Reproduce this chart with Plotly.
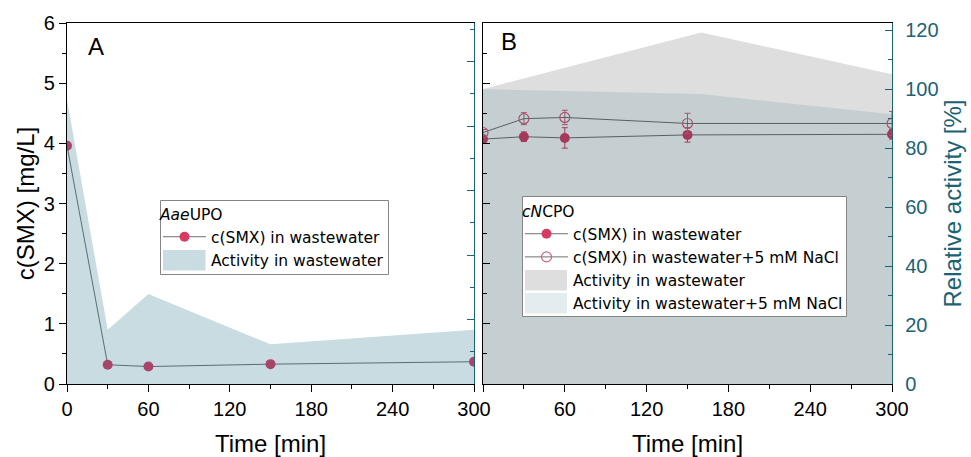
import plotly.graph_objects as go

# ---------------- data ----------------
time_a = [0, 30, 60, 150, 300]
smx_a = [3.96, 0.32, 0.29, 0.33, 0.37]
act_time_a = [0, 30, 60, 150, 300]
act_a = [88.2, 16.8, 27.9, 12.3, 16.8]

time_b = [0, 30, 60, 150, 300]
smx_b = [4.07, 4.11, 4.09, 4.14, 4.15]
smx_b_err = [0.05, 0.08, 0.17, 0.12, 0.08]
smx_b_nacl = [4.18, 4.41, 4.43, 4.33, 4.33]
smx_b_nacl_err = [0.05, 0.10, 0.12, 0.17, 0.20]
act_time_b = [0, 160, 300]
act_b = [100, 119.2, 105]
act_b_nacl = [100, 98.3, 91.5]

x_ticks = [0, 60, 120, 180, 240, 300]
x_labels_a = ["0", "60", "120", "180", "240", "300"]
x_labels_b = ["", "60", "120", "180", "240", "300"]

# ---------------- styles ----------------
W, H = 971, 457
TEAL = "#1b6373"
RED = "#d63c63"
PINK = "#d2607a"
LINE = "#4a4a4a"
FILL_A = "rgba(18,103,128,0.23)"
FILL_GRAY = "rgba(0,0,0,0.13)"
FILL_BLUE = "rgba(18,103,128,0.118)"
TICKFONT = dict(family="Liberation Sans, Arial", size=20, color="black")
TITLEFONT = dict(family="Liberation Sans, Arial", size=24, color="black")
LEGFONT = dict(family="DejaVu Sans", size=15.5, color="black")

xa_dom = [67 / W, 474 / W]
xb_dom = [483 / W, 892 / W]
y_dom = [1 - 384 / H, 1 - 23 / H]

fig = go.Figure()

# Panel A
fig.add_trace(go.Scatter(
    x=time_a, y=smx_a, mode="lines+markers", name="c(SMX) in wastewater",
    line=dict(color=LINE, width=0.8), marker=dict(color=RED, size=10),
    xaxis="x", yaxis="y", legend="legend"))
fig.add_trace(go.Scatter(
    x=act_time_a, y=act_a, mode="lines", fill="tozeroy", fillcolor=FILL_A,
    line=dict(width=0, color="rgba(0,0,0,0)"), showlegend=False,
    name="Activity in wastewater", xaxis="x", yaxis="y2"))
fig.add_trace(go.Scatter(
    x=[None], y=[None], mode="lines", name="Activity in wastewater",
    line=dict(width=0, color="rgba(0,0,0,0)"), xaxis="x", yaxis="y", legend="legend"))

# Panel B
fig.add_trace(go.Scatter(
    x=time_b, y=smx_b, mode="lines+markers", name="c(SMX) in wastewater",
    line=dict(color=LINE, width=0.8), marker=dict(color=RED, size=10),
    error_y=dict(type="data", array=smx_b_err, color=RED, thickness=1, width=3),
    xaxis="x2", yaxis="y3", legend="legend2"))
fig.add_trace(go.Scatter(
    x=time_b, y=smx_b_nacl, mode="lines+markers", name="c(SMX) in wastewater+5 mM NaCl",
    line=dict(color=LINE, width=0.8),
    marker=dict(symbol="circle-open", color=PINK, size=10, line=dict(width=1.2, color=PINK)),
    error_y=dict(type="data", array=smx_b_nacl_err, color=PINK, thickness=1, width=3),
    xaxis="x2", yaxis="y3", legend="legend2"))
fig.add_trace(go.Scatter(
    x=act_time_b, y=act_b, mode="lines", fill="tozeroy", fillcolor=FILL_GRAY,
    line=dict(width=0, color="rgba(0,0,0,0)"), showlegend=False,
    name="Activity in wastewater", xaxis="x2", yaxis="y4"))
fig.add_trace(go.Scatter(
    x=act_time_b, y=act_b_nacl, mode="lines", fill="tozeroy", fillcolor=FILL_BLUE,
    line=dict(width=0, color="rgba(0,0,0,0)"), showlegend=False,
    name="Activity in wastewater+5 mM NaCl", xaxis="x2", yaxis="y4"))
fig.add_trace(go.Scatter(
    x=[None], y=[None], mode="lines", name="Activity in wastewater",
    line=dict(width=0, color="rgba(0,0,0,0)"), xaxis="x2", yaxis="y3", legend="legend2"))
fig.add_trace(go.Scatter(
    x=[None], y=[None], mode="lines", name="Activity in wastewater+5 mM NaCl",
    line=dict(width=0, color="rgba(0,0,0,0)"), xaxis="x2", yaxis="y3", legend="legend2"))

def x_axis(dom, anchor, labels):
    return dict(domain=dom, anchor=anchor, range=[0, 300], tickvals=x_ticks, ticktext=labels,
                ticks="outside", ticklen=7, tickwidth=1.3,
                tickcolor="black", showline=True, linecolor="black", linewidth=1.3,
                mirror=True, showgrid=False, zeroline=False, tickfont=TICKFONT,
                minor=dict(dtick=30, tick0=0, ticks="outside", ticklen=4, tickwidth=1.3,
                           tickcolor="black"),
                title=dict(text="Time [min]", font=TITLEFONT, standoff=23), automargin=False)

fig.update_layout(
    width=W, height=H, margin=dict(l=0, r=0, t=0, b=0),
    paper_bgcolor="white", plot_bgcolor="white",
    xaxis=x_axis(xa_dom, "y", x_labels_a),
    xaxis2=x_axis(xb_dom, "y3", x_labels_b),
    yaxis=dict(domain=y_dom, anchor="x", range=[0, 6], dtick=1, ticks="outside", ticklen=7,
               tickwidth=1.3, tickcolor="black", showline=True, linecolor="black",
               linewidth=1.3, showgrid=False, zeroline=False, tickfont=TICKFONT,
               minor=dict(dtick=0.5, ticks="outside", ticklen=4, tickwidth=1.3, tickcolor="black"),
               title=dict(text="c(SMX) [mg/L]", font=TITLEFONT, standoff=2), automargin=False),
    yaxis2=dict(overlaying="y", side="right", anchor="x", range=[0, 112], dtick=20,
                ticks="inside", ticklen=7, tickwidth=1.3, tickcolor=TEAL, showticklabels=False,
                showline=True, linecolor=TEAL, linewidth=1.3, showgrid=False, zeroline=False,
                minor=dict(dtick=10, ticks="inside", ticklen=4, tickwidth=1.3, tickcolor=TEAL)),
    yaxis3=dict(domain=y_dom, anchor="x2", range=[0, 6], dtick=1, ticks="inside", ticklen=7,
                tickwidth=1.3, tickcolor="black", showticklabels=False, showline=True,
                linecolor="black", linewidth=1.3, showgrid=False, zeroline=False,
                minor=dict(dtick=0.5, ticks="inside", ticklen=4, tickwidth=1.3, tickcolor="black")),
    yaxis4=dict(overlaying="y3", side="right", anchor="x2", range=[0, 122.4], dtick=20,
                ticks="inside", ticklen=7, tickwidth=1.3, tickcolor=TEAL,
                tickfont=dict(family="Liberation Sans, Arial", size=20, color=TEAL),
                ticklabelstandoff=8,
                showline=True, linecolor=TEAL, linewidth=1.3, showgrid=False, zeroline=False,
                minor=dict(dtick=10, ticks="inside", ticklen=4, tickwidth=1.3, tickcolor=TEAL),
                title=dict(text="Relative activity [%]",
                           font=dict(family="Liberation Sans, Arial", size=24, color=TEAL),
                           standoff=5), automargin=False),
    legend=dict(x=158 / W, y=1 - 200 / H, xanchor="left", yanchor="top",
                bgcolor="rgba(0,0,0,0)", borderwidth=0,
                itemwidth=43, font=LEGFONT, title=dict(text="<i>Aae</i>UPO", font=LEGFONT),
                tracegroupgap=0),
    legend2=dict(x=520 / W, y=1 - 197 / H, xanchor="left", yanchor="top",
                 bgcolor="rgba(0,0,0,0)", borderwidth=0,
                 itemwidth=43, font=LEGFONT, title=dict(text="<i>cN</i>CPO", font=LEGFONT),
                 tracegroupgap=0),
    showlegend=True,
)

# legend boxes and fill swatches (paper coordinates)
def rect(x0, y0, x1, y1, color, line=None):
    return dict(type="rect", xref="paper", yref="paper", layer="above",
                x0=x0 / W, x1=x1 / W, y0=1 - y0 / H, y1=1 - y1 / H,
                fillcolor=color, line=dict(width=0) if line is None else line)

BOX = dict(color="#858585", width=1)
fig.update_layout(shapes=[
    rect(160.5, 200.5, 388.5, 274.5, "white", BOX),
    rect(163, 250, 205.5, 270.5, FILL_A),
    rect(522.5, 196.5, 846.5, 316.5, "white", BOX),
    rect(525, 270, 567, 290.5, "rgba(0,0,0,0.13)"),
    rect(525, 293, 567, 313.5, "rgba(227,237,240,1)"),
])

fig.add_annotation(text="A", xref="paper", yref="paper", x=95.5 / W, y=1 - 46.5 / H,
                   showarrow=False, font=dict(family="Liberation Sans, Arial", size=24, color="black"),
                   xanchor="center", yanchor="middle")
fig.add_annotation(text="B", xref="paper", yref="paper", x=508.5 / W, y=1 - 41.5 / H,
                   showarrow=False, font=dict(family="Liberation Sans, Arial", size=24, color="black"),
                   xanchor="center", yanchor="middle")

fig.write_html("out.html")
